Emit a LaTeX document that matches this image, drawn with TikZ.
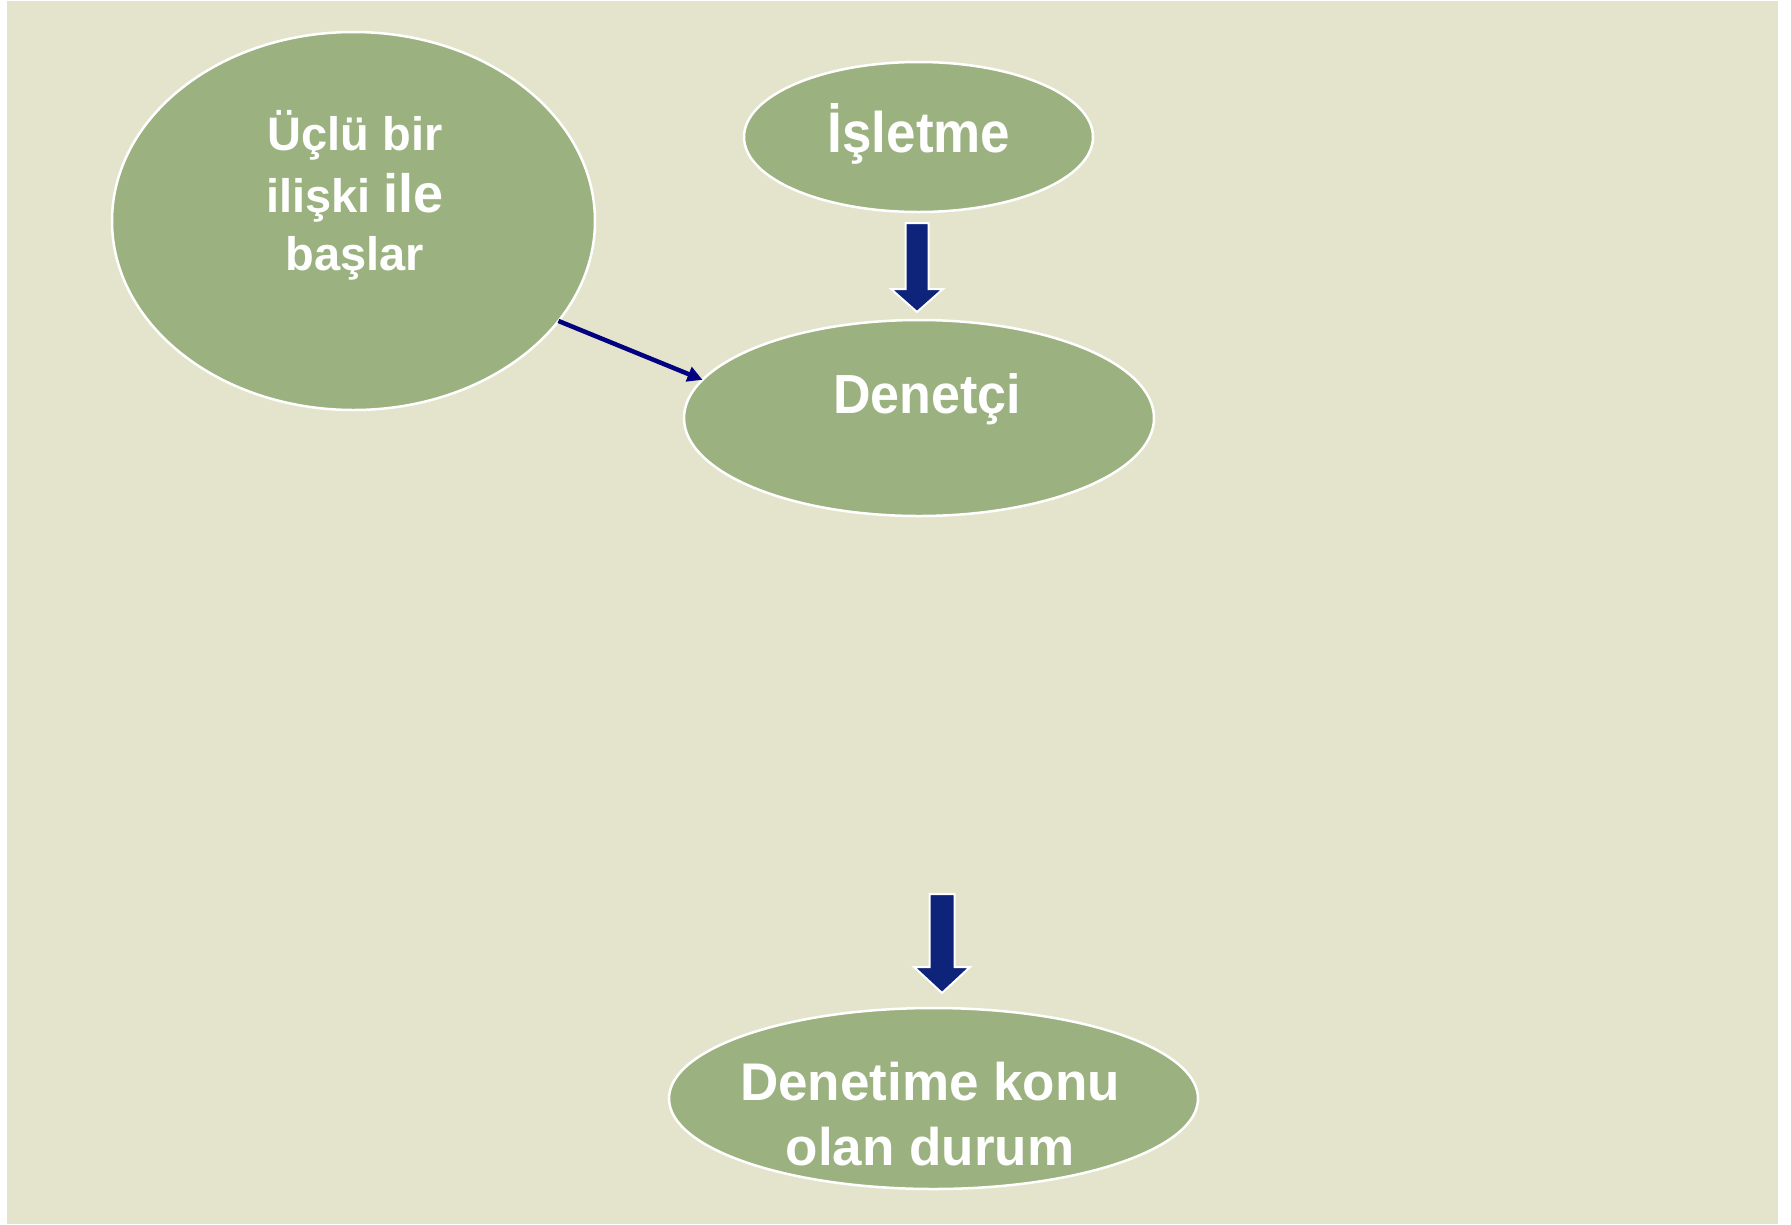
\documentclass[tikz,border=0pt]{standalone}
\usepackage{fontspec}
\setmainfont{Liberation Sans}
\usetikzlibrary{shapes.geometric,arrows.meta}
\definecolor{bgc}{RGB}{228,228,204}
\definecolor{ellc}{RGB}{155,178,128}
\definecolor{blockc}{RGB}{14,36,122}
\definecolor{thinc}{RGB}{0,0,128}
\tikzset{
  oval/.style={ellipse, draw=white, line width=2.5pt, fill=ellc, inner sep=0pt, outer sep=0pt},
  txt/.style={text=white, font=\bfseries\fontsize{#1}{#1}\selectfont, anchor=base, inner sep=0pt},
  blockarrow/.style={fill=blockc, draw=white, line width=2pt, line join=miter},
  thinarrow/.style={draw=thinc, line width=4.5pt, -{Triangle[length=15pt,width=15pt]}}
}
\begin{document}
\begin{tikzpicture}[x=1pt,y=-1pt]
\useasboundingbox (0,0) rectangle (1791,1224);
\fill[white] (0,0) rectangle (1791,1224);
\fill[bgc] (7,1) rectangle (1778,1224);

\node[oval, minimum width=483pt, minimum height=378pt] (u) at (353.5,221) {};
\node[oval, minimum width=349pt, minimum height=150pt] (isl) at (918.5,137) {};
\node[oval, minimum width=470pt, minimum height=196pt] (den) at (919,418) {};
\node[oval, minimum width=529pt, minimum height=181pt] (dur) at (933.5,1098.5) {};

\node[txt=47] (u1) at (355,150) {Üçlü bir};
\node[txt=47] (u2) at (355,212) {ilişki {\fontsize{54}{54}\selectfont ile}};
\node[txt=47] (u3) at (355,270) {başlar};
\node[txt=53] (islt) at (919,152) {\scalebox{1}[1.08]{İşletme}};
\node[txt=52] (dent) at (927,413) {\scalebox{1}[1.06]{Denetçi}};
\node[txt=53] (dur1) at (930,1100) {Denetime konu};
\node[txt=53] (dur2) at (930,1165) {olan durum};

% block arrow Isletme -> Denetci
\draw[blockarrow] (905.5,223) -- (928.5,223) -- (928.5,289) -- (943,289) -- (917,312)
  -- (891,289) -- (905.5,289) -- cycle;
% block arrow -> Denetime konu olan durum
\draw[blockarrow] (929.5,894) -- (954.5,894) -- (954.5,967) -- (970,967) -- (942,993)
  -- (914,967) -- (929.5,967) -- cycle;

\draw[thinarrow] (u.-26) -- (den.170);
\end{tikzpicture}
\end{document}
